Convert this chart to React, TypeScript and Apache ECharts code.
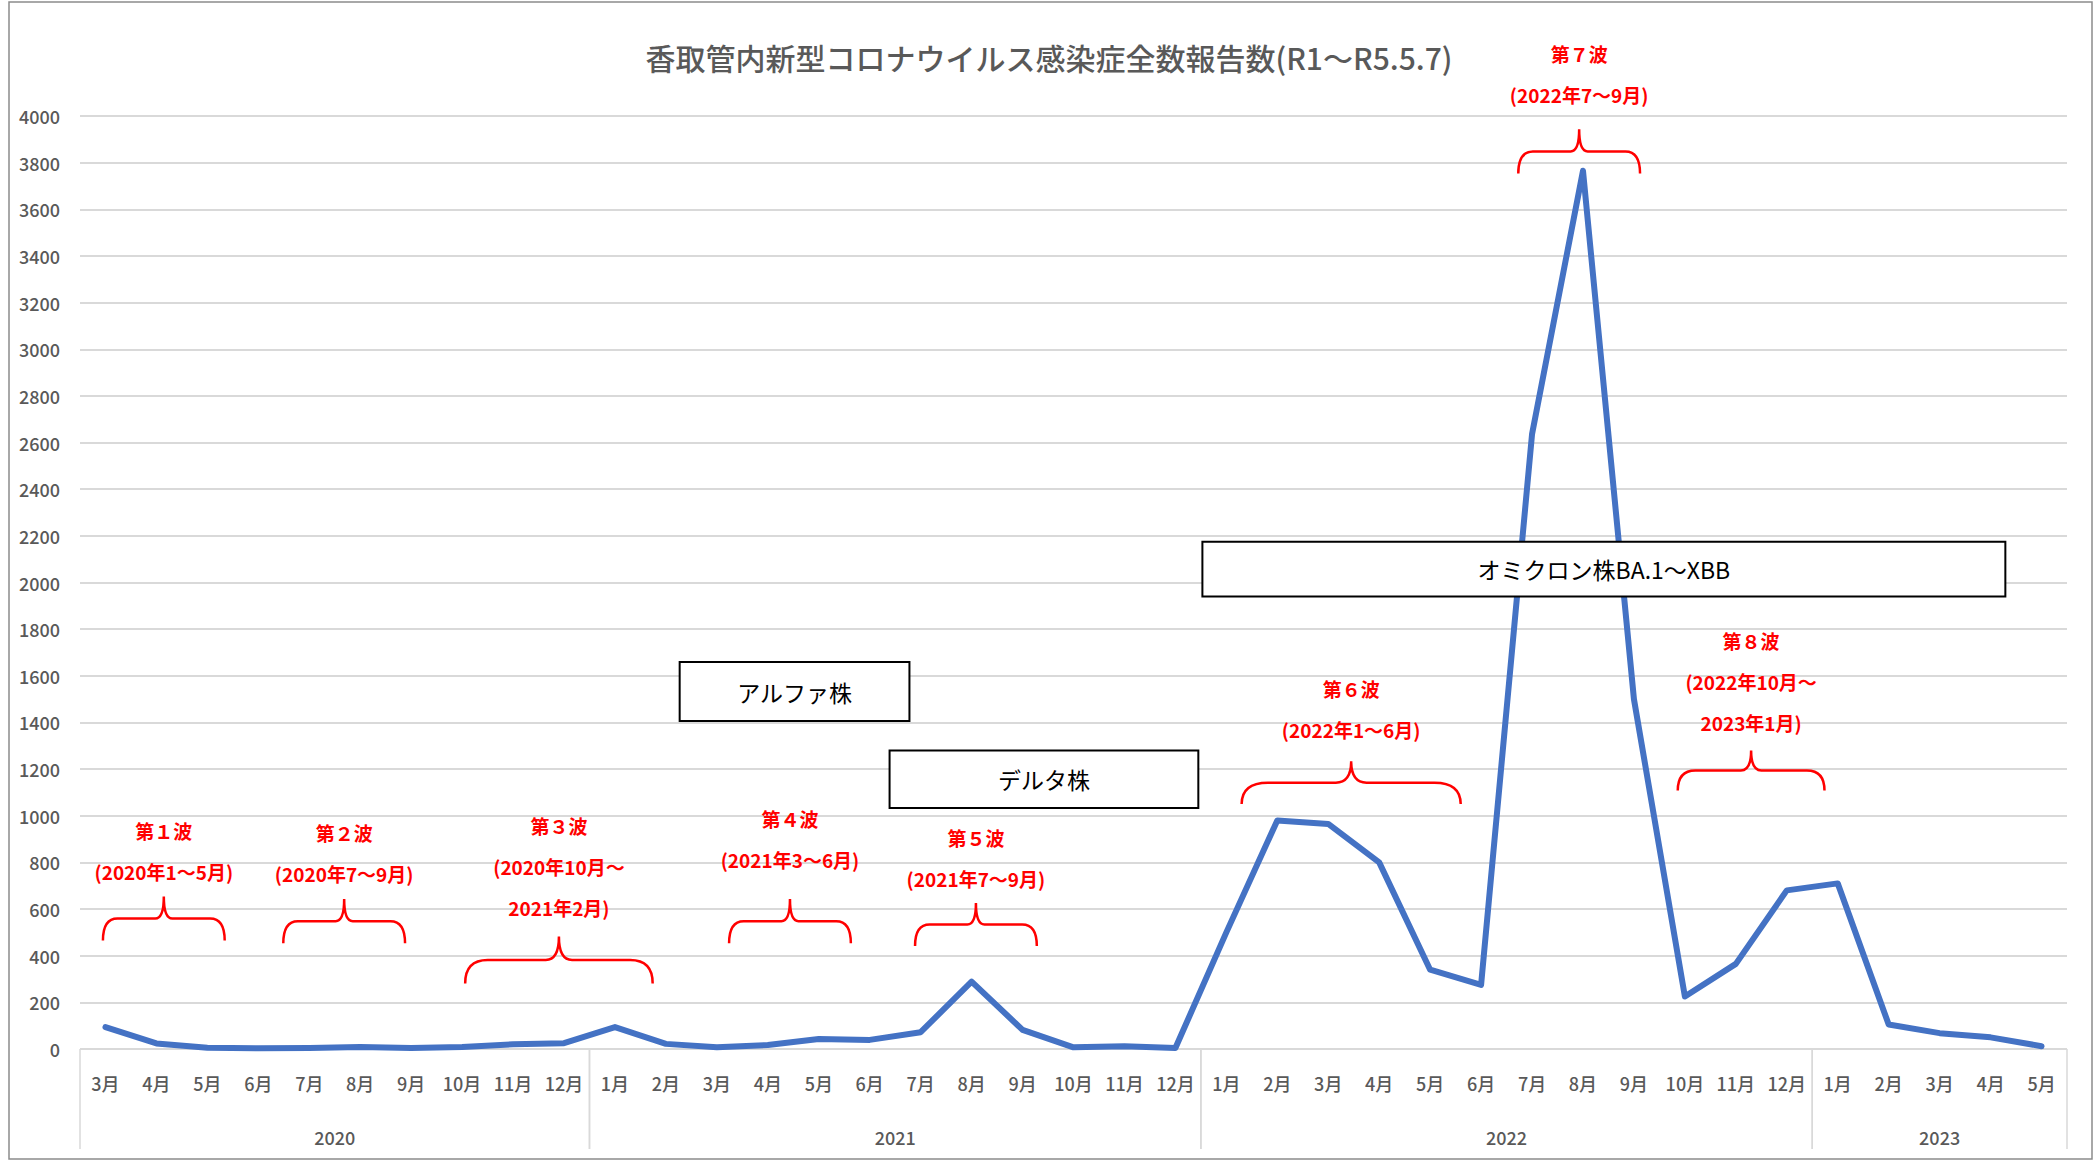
import React, { useEffect, useRef } from 'react';
import * as echarts from 'echarts';

const FONT = "'Noto Sans CJK JP', 'Noto Sans', sans-serif";

const chartTitle = '香取管内新型コロナウイルス感染症全数報告数(R1〜R5.5.7)';

const months = [
  '3月', '4月', '5月', '6月', '7月', '8月', '9月', '10月', '11月', '12月',
  '1月', '2月', '3月', '4月', '5月', '6月', '7月', '8月', '9月', '10月', '11月', '12月',
  '1月', '2月', '3月', '4月', '5月', '6月', '7月', '8月', '9月', '10月', '11月', '12月',
  '1月', '2月', '3月', '4月', '5月',
];

const cases = [
  94, 24, 5, 3, 4, 9, 4, 9, 20, 25,
  94, 22, 7, 17, 43, 39, 72, 289, 82, 7, 12, 4,
  500, 980, 965, 800, 340, 275, 2636, 3765, 1500, 225, 365, 680,
  710, 105, 68, 50, 12,
];

const yearNames = ['2020', '2021', '2022', '2023'];
const yearFirstIdx = [0, 10, 22, 34];
const yearLastIdx = [9, 21, 33, 38];

const yMin = 0;
const yMax = 4000;
const yStep = 200;

const waveNames = ['第１波', '第２波', '第３波', '第４波', '第５波', '第６波', '第７波', '第８波'];
const wavePeriods = [
  ['(2020年1〜5月)'],
  ['(2020年7〜9月)'],
  ['(2020年10月〜', '2021年2月)'],
  ['(2021年3〜6月)'],
  ['(2021年7〜9月)'],
  ['(2022年1〜6月)'],
  ['(2022年7〜9月)'],
  ['(2022年10月〜', '2023年1月)'],
];
// brace extents in category-index units, heights in case-count units
const waveStart = [-0.05, 3.49, 7.06, 12.24, 15.89, 22.3, 27.73, 30.86];
const waveEnd = [2.34, 5.88, 10.74, 14.63, 18.28, 26.6, 30.12, 33.74];
const waveTextY = [935, 930, 958, 987, 907, 1544, 4270, 1750];
const waveBraceTop = [654, 643, 482, 643, 626, 1234, 3943, 1280];
const waveBraceBottom = [465, 453, 281, 453, 442, 1050, 3753, 1108];

const strainNames = ['アルファ株', 'デルタ株', 'オミクロン株BA.1〜XBB'];
const strainStart = [11.27, 15.39, 21.53];
const strainEnd = [15.78, 21.45, 37.29];
const strainTop = [1659, 1280, 2175];
const strainBottom = [1406, 1033, 1940];

const waveData = waveNames.map((_, i) => [waveStart[i], waveTextY[i], waveEnd[i], waveBraceTop[i], waveBraceBottom[i]]);
const strainData = strainNames.map((_, i) => [strainStart[i], strainTop[i], strainEnd[i], strainBottom[i]]);
const yearData = yearNames.map((_, i) => [(yearFirstIdx[i] + yearLastIdx[i]) / 2, 0, yearFirstIdx[i] - 0.5, yearLastIdx[i] + 0.5]);

function renderWave(params: any, api: any) {
  const i = params.dataIndex;
  const x0 = api.value(0);
  const ty = api.value(1);
  const x1 = api.value(2);
  const top = api.value(3);
  const bot = api.value(4);
  const pL = api.coord([x0, bot]);
  const pR = api.coord([x1, bot]);
  const pT = api.coord([(x0 + x1) / 2, top]);
  const L = pL[0], R = pR[0], B = pL[1], T = pT[1], C = pT[0];
  const M = T + (B - T) * 0.5;
  const w = (R - L) * 0.12;
  const w2 = (R - L) * 0.07;
  const d = `M${L},${B} Q${L},${M} ${L + w},${M} L${C - w2},${M} Q${C},${M} ${C},${T} Q${C},${M} ${C + w2},${M} L${R - w},${M} Q${R},${M} ${R},${B}`;
  const tp = api.coord([(x0 + x1) / 2, ty]);
  const lines = [waveNames[i], ...wavePeriods[i]];
  const children: any[] = [
    {
      type: 'path',
      shape: { pathData: d },
      style: { fill: 'none', stroke: '#FF0000', lineWidth: 2.5 },
    },
  ];
  lines.forEach((t, k) => {
    children.push({
      type: 'text',
      x: tp[0],
      y: tp[1] + k * 41,
      style: {
        text: t,
        fill: '#FF0000',
        fontSize: 19,
        fontWeight: 'bold',
        fontFamily: FONT,
        align: 'center',
        verticalAlign: 'middle',
      },
    });
  });
  return { type: 'group', children };
}

function renderStrain(params: any, api: any) {
  const i = params.dataIndex;
  const p0 = api.coord([api.value(0), api.value(1)]);
  const p1 = api.coord([api.value(2), api.value(3)]);
  return {
    type: 'group',
    children: [
      {
        type: 'rect',
        shape: { x: p0[0], y: p0[1], width: p1[0] - p0[0], height: p1[1] - p0[1] },
        style: { fill: '#FFFFFF', stroke: '#000000', lineWidth: 2 },
      },
      {
        type: 'text',
        x: (p0[0] + p1[0]) / 2,
        y: (p0[1] + p1[1]) / 2,
        style: {
          text: strainNames[i],
          fill: '#000000',
          fontSize: 23,
          fontFamily: FONT,
          align: 'center',
          verticalAlign: 'middle',
        },
      },
    ],
  };
}

function renderYear(params: any, api: any) {
  const i = params.dataIndex;
  const c = api.coord([api.value(0), api.value(1)]);
  const s = api.coord([api.value(2), api.value(1)]);
  const e = api.coord([api.value(3), api.value(1)]);
  const lineStyle = { stroke: '#D9D9D9', lineWidth: 1.5 };
  return {
    type: 'group',
    children: [
      { type: 'line', shape: { x1: s[0], y1: s[1], x2: s[0], y2: s[1] + 100 }, style: lineStyle },
      { type: 'line', shape: { x1: e[0], y1: e[1], x2: e[0], y2: e[1] + 100 }, style: lineStyle },
      {
        type: 'text',
        x: c[0],
        y: c[1] + 88,
        style: {
          text: yearNames[i],
          fill: '#595959',
          fontSize: 18,
          fontWeight: 500,
          fontFamily: FONT,
          align: 'center',
          verticalAlign: 'middle',
        },
      },
    ],
  };
}

export default function App() {
  const ref = useRef<HTMLDivElement>(null);
  useEffect(() => {
    if (!ref.current) return;
    const chart = echarts.init(ref.current, null, { renderer: 'svg' });
    chart.setOption({
      animation: false,
      backgroundColor: '#FFFFFF',
      title: {
        text: chartTitle,
        left: 'center',
        top: 37,
        textStyle: { color: '#595959', fontSize: 30, fontWeight: 500, fontFamily: FONT },
      },
      grid: { left: 80, right: 31, top: 116, bottom: 113, containLabel: false },
      xAxis: [
        {
          type: 'category',
          data: months,
          boundaryGap: true,
          axisLine: { show: false },
          axisTick: { show: false },
          splitLine: { show: false },
          axisLabel: { color: '#595959', fontSize: 18, fontWeight: 500, margin: 25, interval: 0, fontFamily: FONT },
        },
        { type: 'value', min: -0.5, max: 38.5, show: false },
      ],
      yAxis: {
        type: 'value',
        min: yMin,
        max: yMax,
        interval: yStep,
        axisLine: { show: false },
        axisTick: { show: false },
        axisLabel: {
          color: '#595959',
          fontSize: 18,
          fontWeight: 500,
          margin: 20,
          fontFamily: FONT,
          formatter: (v: number) => String(v),
        },
        splitLine: { lineStyle: { color: '#D9D9D9', width: 2 } },
      },
      series: [
        {
          type: 'line',
          name: '報告数',
          data: cases,
          xAxisIndex: 0,
          symbol: 'none',
          lineStyle: { color: '#4472C4', width: 6, join: 'round', cap: 'round' },
          z: 2,
        },
        { type: 'custom', xAxisIndex: 1, clip: false, data: yearData, renderItem: renderYear, z: 1, silent: true },
        { type: 'custom', xAxisIndex: 1, clip: false, data: waveData, renderItem: renderWave, z: 3, silent: true },
        { type: 'custom', xAxisIndex: 1, clip: false, data: strainData, renderItem: renderStrain, z: 4, silent: true },
      ],
      graphic: [
        {
          type: 'rect',
          silent: true,
          z: -1,
          shape: { x: 9, y: 2, width: 2083, height: 1157 },
          style: { fill: 'none', stroke: '#8C8C8C', lineWidth: 1.5 },
        },
      ],
    });
    return () => chart.dispose();
  }, []);
  return (
    <div
      ref={ref}
      style={{ position: 'fixed', left: 0, top: 0, width: 2098, height: 1162, background: '#FFFFFF' }}
    />
  );
}
